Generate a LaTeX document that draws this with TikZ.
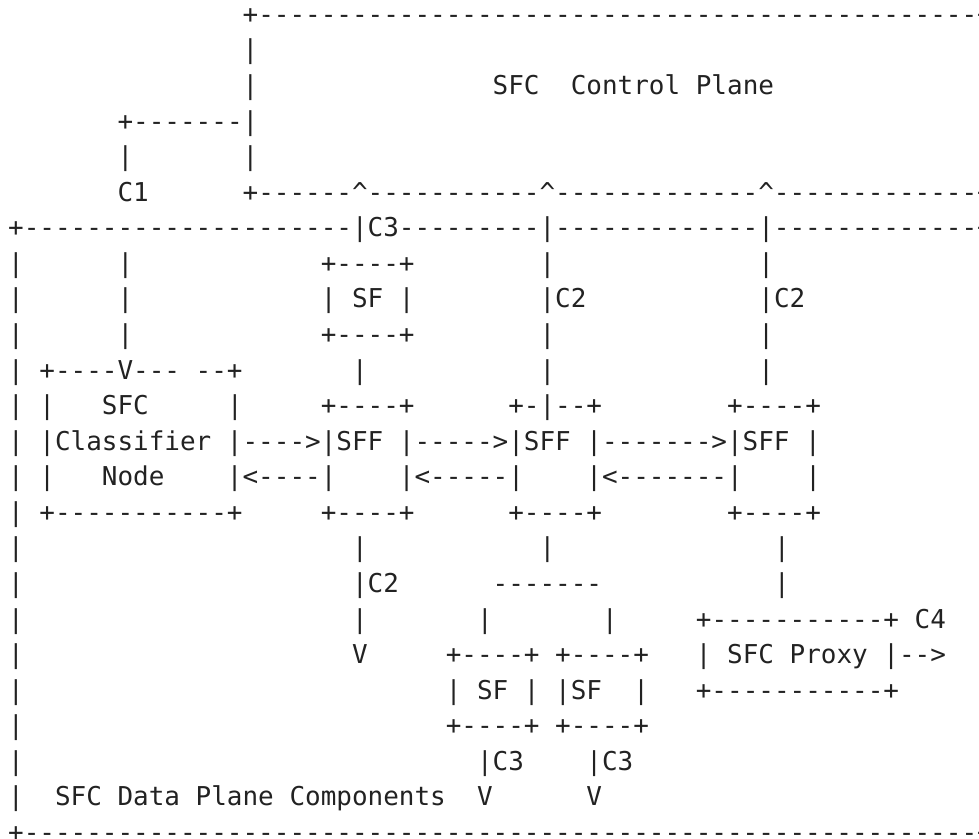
\documentclass[tikz,border=0pt]{standalone}
\usepackage{fontspec}
\setmonofont{DejaVu Sans Mono}
\definecolor{ink}{HTML}{222222}
\newcommand{\gap}[1]{\hspace*{#1\fontcharwd\font`\-}}
\newcommand{\crt}{\textasciicircum}

\begin{document}
\begin{tikzpicture}[x=15.63pt, y=-35.57pt,
    asciirow/.style={anchor=base west, inner sep=0pt, outer sep=0pt,
        xshift=8.2pt, yshift=-23.3pt, text=ink,
        font=\ttfamily\fontsize{25.96pt}{35.57pt}\selectfont}]
    \useasboundingbox (0,0) rectangle (62.636,23.587);
    \node[asciirow] (r0) at (0,0) {\gap{15}+----------------------------------------------+};
    \node[asciirow] (r1) at (0,1) {\gap{15}|};
    \node[asciirow] (r2) at (0,2) {\gap{15}|\gap{15}SFC\gap{2}Control Plane};
    \node[asciirow] (r3) at (0,3) {\gap{7}+-------|};
    \node[asciirow] (r4) at (0,4) {\gap{7}|\gap{7}|};
    \node[asciirow] (r5) at (0,5) {\gap{7}C1\gap{6}+------\crt-----------\crt-------------\crt-------------+};
    \node[asciirow] (r6) at (0,6) {+---------------------|C3---------|-------------|-------------+};
    \node[asciirow] (r7) at (0,7) {|\gap{6}|\gap{12}+----+\gap{8}|\gap{13}|};
    \node[asciirow] (r8) at (0,8) {|\gap{6}|\gap{12}| SF |\gap{8}|C2\gap{11}|C2};
    \node[asciirow] (r9) at (0,9) {|\gap{6}|\gap{12}+----+\gap{8}|\gap{13}|};
    \node[asciirow] (r10) at (0,10) {| +----V--- --+\gap{7}|\gap{11}|\gap{13}|};
    \node[asciirow] (r11) at (0,11) {| |\gap{3}SFC\gap{5}|\gap{5}+----+\gap{6}+-|--+\gap{8}+----+};
    \node[asciirow] (r12) at (0,12) {| |Classifier |---->|SFF |----->|SFF |------->|SFF |};
    \node[asciirow] (r13) at (0,13) {| |\gap{3}Node\gap{4}|<----|\gap{4}|<-----|\gap{4}|<-------|\gap{4}|};
    \node[asciirow] (r14) at (0,14) {| +-----------+\gap{5}+----+\gap{6}+----+\gap{8}+----+};
    \node[asciirow] (r15) at (0,15) {|\gap{21}|\gap{11}|\gap{14}|};
    \node[asciirow] (r16) at (0,16) {|\gap{21}|C2\gap{6}-------\gap{11}|};
    \node[asciirow] (r17) at (0,17) {|\gap{21}|\gap{7}|\gap{7}|\gap{5}+-----------+ C4};
    \node[asciirow] (r18) at (0,18) {|\gap{21}V\gap{5}+----+ +----+\gap{3}| SFC Proxy |-->};
    \node[asciirow] (r19) at (0,19) {|\gap{27}| SF | |SF\gap{2}|\gap{3}+-----------+};
    \node[asciirow] (r20) at (0,20) {|\gap{27}+----+ +----+};
    \node[asciirow] (r21) at (0,21) {|\gap{29}|C3\gap{4}|C3};
    \node[asciirow] (r22) at (0,22) {|\gap{2}SFC Data Plane Components\gap{2}V\gap{6}V};
    \node[asciirow] (r23) at (0,23) {+-------------------------------------------------------------+};
\end{tikzpicture}
\end{document}
